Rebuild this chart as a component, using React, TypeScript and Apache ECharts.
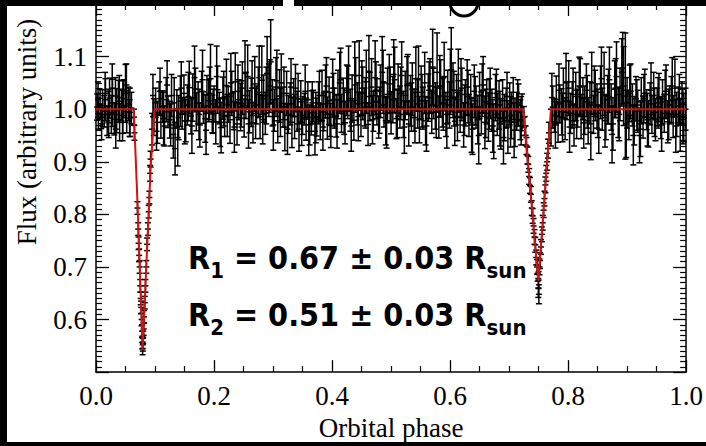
import React, { useEffect, useRef } from "react";
import * as echarts from "echarts";

// Observations: [orbital phase, flux, 1-sigma error]
const outOfEclipseA: number[][] = [
  [0.002,1.004,0.025],[0.004,0.992,0.030],[0.007,1.010,0.028],[0.009,0.985,0.022],[0.011,1.002,0.035],
  [0.014,0.996,0.030],[0.016,1.018,0.040],[0.019,0.978,0.028],[0.021,1.006,0.032],[0.023,1.021,0.038],
  [0.026,0.990,0.036],[0.028,1.012,0.045],[0.031,0.981,0.030],[0.033,1.025,0.035],[0.035,0.997,0.042],
  [0.038,1.015,0.040],[0.040,0.975,0.035],[0.043,1.008,0.030],[0.045,0.988,0.048],[0.047,1.020,0.036],
  [0.050,1.030,0.055],[0.052,0.995,0.040],[0.055,1.010,0.032],[0.057,0.983,0.035],[0.060,1.002,0.030]
];

const primaryEclipse: number[][] = [
  [0.0643,0.985,0.015],[0.0650,0.955,0.014],[0.0702,0.812,0.012],[0.0716,0.772,0.012],[0.0722,0.745,0.012],
  [0.0731,0.722,0.012],[0.0740,0.700,0.012],[0.0750,0.664,0.012],[0.0758,0.640,0.012],[0.0764,0.623,0.012],
  [0.0772,0.600,0.012],[0.0779,0.578,0.012],[0.0785,0.556,0.012],[0.0790,0.545,0.012],[0.0794,0.552,0.012],
  [0.0800,0.566,0.012],[0.0808,0.582,0.012],[0.0815,0.605,0.012],[0.0826,0.632,0.012],[0.0838,0.664,0.012],
  [0.0852,0.700,0.012],[0.0866,0.743,0.012],[0.0880,0.772,0.012],[0.0893,0.805,0.012],[0.0905,0.832,0.012],
  [0.0917,0.878,0.015],[0.0925,0.905,0.015]
];

const outOfEclipseB: number[][] = [
  [0.095,0.962,0.030],[0.098,0.985,0.035],[0.101,1.012,0.028],[0.104,0.975,0.040],[0.107,1.020,0.032],
  [0.110,0.990,0.045],[0.113,1.005,0.030],[0.116,0.968,0.038],[0.119,1.018,0.042],[0.122,0.995,0.030],
  [0.125,0.980,0.035],[0.128,1.026,0.040],[0.131,0.952,0.045],[0.134,0.925,0.050],[0.137,1.001,0.036],
  [0.140,0.984,0.042],[0.143,1.015,0.048],[0.146,0.992,0.030],[0.149,1.030,0.035],[0.152,0.978,0.040],
  [0.155,1.008,0.038],[0.158,1.041,0.050],[0.161,0.987,0.034],[0.164,1.022,0.045],[0.167,1.060,0.060],
  [0.170,0.995,0.036],[0.173,1.012,0.040],[0.176,0.970,0.042],[0.179,1.034,0.038],[0.182,1.003,0.030],
  [0.185,0.982,0.045],[0.188,1.028,0.036],[0.191,1.016,0.040],[0.194,1.058,0.065],[0.197,0.991,0.036],
  [0.200,1.010,0.034],[0.203,0.976,0.042],[0.206,1.037,0.045],[0.209,1.002,0.030],[0.212,0.965,0.048],
  [0.215,1.021,0.040],[0.218,0.986,0.038],[0.221,1.045,0.050],[0.224,1.009,0.034],[0.227,0.980,0.045],
  [0.230,1.030,0.042],[0.233,0.997,0.036],[0.236,1.052,0.055],[0.239,0.972,0.040],[0.242,1.018,0.038],
  [0.245,1.004,0.045],[0.248,1.040,0.050],[0.251,0.983,0.036],[0.254,1.026,0.044],[0.257,1.062,0.060],
  [0.260,0.995,0.040],[0.263,1.013,0.046],[0.266,0.974,0.038],[0.269,1.048,0.052],[0.272,1.008,0.036],
  [0.275,1.032,0.048],[0.278,0.986,0.042],[0.281,1.055,0.065],[0.284,1.020,0.045],[0.287,0.992,0.040],
  [0.290,1.068,0.070],[0.293,1.036,0.050],[0.296,1.090,0.080],[0.299,1.012,0.044],[0.302,0.998,0.040],
  [0.305,1.042,0.056],[0.308,0.978,0.042],[0.311,1.025,0.050],[0.314,1.050,0.055],[0.317,1.004,0.038],
  [0.320,0.966,0.045],[0.323,1.030,0.042],[0.326,0.990,0.036],[0.329,1.010,0.040],[0.332,0.975,0.048],
  [0.335,1.022,0.036],[0.338,1.040,0.045],[0.341,0.996,0.038],[0.344,0.962,0.042],[0.347,1.014,0.040],
  [0.350,0.988,0.036],[0.353,1.000,0.030],[0.356,0.981,0.040],[0.359,1.018,0.034],[0.362,0.970,0.038],
  [0.365,0.993,0.042],[0.368,1.006,0.030],[0.371,0.958,0.045],[0.374,0.985,0.036],[0.377,1.012,0.040],
  [0.380,0.976,0.034],[0.383,1.026,0.048],[0.386,0.995,0.036],[0.389,1.034,0.050],[0.392,0.983,0.040],
  [0.395,1.016,0.045],[0.398,0.969,0.042],[0.401,1.040,0.055],[0.404,1.002,0.038],[0.407,0.987,0.040],
  [0.410,1.028,0.046],[0.413,1.050,0.058],[0.416,0.992,0.036],[0.419,1.015,0.044],[0.422,0.974,0.040],
  [0.425,1.036,0.048],[0.428,1.058,0.062],[0.431,0.998,0.040],[0.434,1.020,0.045],[0.437,0.979,0.038],
  [0.440,1.046,0.052],[0.443,1.010,0.040],[0.446,1.064,0.066],[0.449,0.990,0.042],[0.452,1.030,0.050],
  [0.455,1.004,0.036],[0.458,1.052,0.060],[0.461,0.971,0.040],[0.464,1.024,0.046],[0.467,1.042,0.054],
  [0.470,0.996,0.038],[0.473,1.060,0.070],[0.476,1.014,0.044],[0.479,0.985,0.040],[0.482,1.034,0.050],
  [0.485,1.070,0.068],[0.488,1.008,0.042],[0.491,0.978,0.046],[0.494,1.028,0.050],[0.497,1.048,0.056],
  [0.500,0.993,0.040],[0.503,1.018,0.044],[0.506,1.056,0.062],[0.509,0.982,0.038],[0.512,1.036,0.050],
  [0.515,1.004,0.040],[0.518,1.064,0.064],[0.521,0.990,0.044],[0.524,1.026,0.046],[0.527,1.045,0.055],
  [0.530,0.972,0.042],[0.533,1.016,0.048],[0.536,1.038,0.050],[0.539,0.998,0.040],[0.542,1.058,0.060],
  [0.545,1.010,0.046],[0.548,0.980,0.044],[0.551,1.032,0.050],[0.554,1.002,0.040],[0.557,1.050,0.058],
  [0.560,0.968,0.048],[0.563,1.022,0.045],[0.566,1.044,0.052],[0.569,0.994,0.040],[0.572,1.030,0.048],
  [0.575,1.006,0.044],[0.578,1.070,0.075],[0.581,0.985,0.040],[0.584,1.040,0.054],[0.587,1.012,0.046],
  [0.590,1.062,0.065],[0.593,0.990,0.042],[0.596,1.024,0.050],[0.599,1.008,0.044],[0.602,1.075,0.080],
  [0.605,1.036,0.052],[0.608,0.977,0.046],[0.611,1.018,0.048],[0.614,1.054,0.060],[0.617,0.996,0.040],
  [0.620,1.028,0.050],[0.623,0.970,0.042],[0.626,1.012,0.044],[0.629,1.042,0.052],[0.632,0.988,0.040],
  [0.635,1.020,0.046],[0.638,0.962,0.048],[0.641,1.034,0.050],[0.644,1.004,0.040],[0.647,0.980,0.046],
  [0.650,1.026,0.044],[0.653,0.993,0.040],[0.656,1.046,0.054],[0.659,0.975,0.050],[0.662,1.014,0.042],
  [0.665,0.985,0.046],[0.668,1.030,0.048],[0.671,0.998,0.040],[0.674,0.958,0.052],[0.677,1.022,0.044],
  [0.680,0.990,0.040],[0.683,1.008,0.046],[0.686,0.972,0.048],[0.689,1.016,0.040],[0.692,0.984,0.044],
  [0.695,1.002,0.038],[0.698,0.966,0.050],[0.701,1.010,0.040],[0.704,0.988,0.044],[0.707,1.020,0.040],
  [0.710,0.975,0.046],[0.713,0.996,0.036],[0.716,1.008,0.040],[0.719,0.980,0.038],[0.722,0.994,0.035]
];

const secondaryEclipse: number[][] = [
  [0.7250,0.985,0.020],[0.7265,0.968,0.018],[0.7280,0.950,0.018],[0.7295,0.930,0.016],[0.7310,0.912,0.016],
  [0.7325,0.895,0.015],[0.7340,0.872,0.015],[0.7355,0.855,0.015],[0.7370,0.838,0.015],[0.7385,0.812,0.014],
  [0.7400,0.797,0.014],[0.7415,0.778,0.014],[0.7430,0.757,0.014],[0.7445,0.742,0.014],[0.7460,0.718,0.014],
  [0.7475,0.700,0.014],[0.7485,0.688,0.015],[0.7495,0.660,0.018],[0.7500,0.675,0.016],[0.7505,0.648,0.018],
  [0.7515,0.700,0.015],[0.7525,0.712,0.015],[0.7540,0.738,0.014],[0.7555,0.762,0.014],[0.7570,0.784,0.014],
  [0.7585,0.808,0.014],[0.7600,0.830,0.014],[0.7615,0.856,0.015],[0.7630,0.878,0.015],[0.7645,0.900,0.016],
  [0.7660,0.925,0.018],[0.7675,0.955,0.020]
];

const outOfEclipseC: number[][] = [
  [0.771,0.965,0.035],[0.774,1.004,0.040],[0.777,0.988,0.032],[0.780,1.018,0.045],[0.783,0.975,0.038],
  [0.786,1.010,0.036],[0.789,0.995,0.044],[0.792,1.030,0.048],[0.795,0.982,0.040],[0.798,1.016,0.036],
  [0.801,1.040,0.052],[0.804,0.992,0.038],[0.807,1.008,0.044],[0.810,0.970,0.040],[0.813,1.024,0.046],
  [0.816,1.002,0.036],[0.819,1.044,0.055],[0.822,0.986,0.042],[0.825,1.020,0.040],[0.828,0.998,0.046],
  [0.831,1.036,0.050],[0.834,0.978,0.044],[0.837,1.012,0.040],[0.840,1.050,0.058],[0.843,0.990,0.036],
  [0.846,1.026,0.048],[0.849,1.006,0.042],[0.852,0.962,0.046],[0.855,1.032,0.050],[0.858,1.000,0.040],
  [0.861,1.048,0.060],[0.864,0.984,0.042],[0.867,1.018,0.046],[0.870,1.056,0.062],[0.873,1.004,0.044],
  [0.876,0.972,0.050],[0.879,1.038,0.054],[0.882,1.062,0.066],[0.885,0.994,0.048],[0.888,1.028,0.050],
  [0.891,1.070,0.064],[0.894,1.044,0.075],[0.897,1.025,0.120],[0.900,1.012,0.048],[0.903,0.988,0.046],
  [0.906,1.034,0.052],[0.909,1.008,0.040],[0.912,0.978,0.046],[0.915,1.020,0.042],[0.918,0.996,0.040],
  [0.921,0.950,0.052],[0.924,1.016,0.044],[0.927,0.985,0.040],[0.930,1.030,0.046],[0.933,0.999,0.038],
  [0.936,0.972,0.044],[0.939,1.010,0.040],[0.942,0.990,0.036],[0.945,1.026,0.044],[0.948,0.980,0.040],
  [0.951,1.004,0.036],[0.954,1.022,0.046],[0.957,0.984,0.040],[0.960,1.014,0.042],[0.963,0.992,0.036],
  [0.966,1.034,0.050],[0.969,0.976,0.040],[0.972,1.008,0.036],[0.975,1.018,0.044],[0.978,0.986,0.040],
  [0.981,1.040,0.055],[0.984,0.990,0.042],[0.987,1.006,0.036],[0.990,0.970,0.050],[0.993,1.012,0.040],
  [0.996,0.984,0.046],[0.999,1.000,0.040]
];

// Second observing run, out of eclipse: [phase, flux, error]
const secondRunA: number[][] = [
  [0.0035,1.018,0.034],[0.0095,0.972,0.030],[0.0155,1.030,0.040],[0.0215,0.990,0.044],[0.0275,1.040,0.046],
  [0.0335,0.962,0.036],[0.0395,1.022,0.042],[0.0455,1.004,0.050],[0.0515,1.046,0.040],[0.0575,0.994,0.046]
];

const secondRunB: number[][] = [
  [0.0965,1.026,0.040],[0.1025,0.958,0.036],[0.1085,1.034,0.044],[0.1145,0.982,0.050],[0.1205,1.046,0.046],
  [0.1265,0.970,0.040],[0.1325,1.012,0.048],[0.1385,0.946,0.054],[0.1445,1.040,0.050],[0.1505,0.978,0.044],
  [0.1565,1.024,0.046],[0.1625,0.968,0.052],[0.1685,1.038,0.040],[0.1745,0.990,0.048],[0.1805,1.056,0.056],
  [0.1865,0.960,0.046],[0.1925,1.030,0.050],[0.1985,0.996,0.042],[0.2045,1.062,0.058],[0.2105,0.975,0.046],
  [0.2165,1.020,0.052],[0.2225,0.988,0.040],[0.2285,1.050,0.056],[0.2345,0.966,0.048],[0.2405,1.034,0.050],
  [0.2465,1.010,0.044],[0.2525,1.068,0.062],[0.2585,0.972,0.046],[0.2645,1.040,0.052],[0.2705,0.992,0.048],
  [0.2765,1.060,0.060],[0.2825,0.980,0.046],[0.2885,1.026,0.054],[0.2945,1.044,0.050],[0.3005,0.970,0.048],
  [0.3065,1.054,0.058],[0.3125,0.994,0.046],[0.3185,1.030,0.050],[0.3245,0.962,0.048],[0.3305,1.042,0.054],
  [0.3365,0.986,0.042],[0.3425,1.020,0.048],[0.3485,0.975,0.044],[0.3545,1.034,0.050],[0.3605,0.958,0.046],
  [0.3665,1.012,0.040],[0.3725,0.984,0.048],[0.3785,1.026,0.046],[0.3845,0.966,0.044],[0.3905,1.044,0.054],
  [0.3965,0.990,0.042],[0.4025,1.018,0.050],[0.4085,0.972,0.046],[0.4145,1.056,0.060],[0.4205,0.996,0.044],
  [0.4265,1.032,0.050],[0.4325,0.968,0.048],[0.4385,1.064,0.064],[0.4445,0.986,0.046],[0.4505,1.040,0.052],
  [0.4565,1.012,0.048],[0.4625,1.072,0.068],[0.4685,0.980,0.046],[0.4745,1.036,0.054],[0.4805,0.998,0.044],
  [0.4865,1.052,0.060],[0.4925,0.974,0.048],[0.4985,1.028,0.052],[0.5045,1.066,0.066],[0.5105,0.992,0.046],
  [0.5165,1.030,0.050],[0.5225,0.966,0.050],[0.5285,1.048,0.056],[0.5345,1.004,0.046],[0.5405,0.984,0.048],
  [0.5465,1.058,0.062],[0.5525,1.016,0.050],[0.5585,0.978,0.046],[0.5645,1.036,0.054],[0.5705,1.080,0.072],
  [0.5765,0.994,0.048],[0.5825,1.044,0.058],[0.5885,1.010,0.050],[0.5945,0.972,0.046],[0.6005,1.052,0.062],
  [0.6065,1.020,0.052],[0.6125,0.986,0.046],[0.6185,1.040,0.056],[0.6245,0.998,0.048],[0.6305,1.024,0.050],
  [0.6365,0.970,0.052],[0.6425,1.016,0.046],[0.6485,0.950,0.054],[0.6545,1.036,0.050],[0.6605,0.992,0.046],
  [0.6665,1.010,0.048],[0.6725,0.968,0.050],[0.6785,1.030,0.046],[0.6845,0.982,0.052],[0.6905,0.946,0.050],
  [0.6965,1.024,0.046],[0.7025,0.976,0.048],[0.7085,0.960,0.052],[0.7145,1.012,0.044],[0.7205,0.978,0.046]
];

const secondRunC: number[][] = [
  [0.7725,1.022,0.046],[0.7785,0.970,0.044],[0.7845,1.036,0.050],[0.7905,0.984,0.046],[0.7965,1.050,0.056],
  [0.8025,0.966,0.048],[0.8085,1.028,0.050],[0.8145,0.990,0.046],[0.8205,1.042,0.054],[0.8265,0.974,0.048],
  [0.8325,1.014,0.050],[0.8385,0.956,0.052],[0.8445,1.034,0.048],[0.8505,0.992,0.046],[0.8565,1.058,0.060],
  [0.8625,0.978,0.050],[0.8685,1.024,0.052],[0.8745,0.952,0.054],[0.8805,1.040,0.056],[0.8865,0.990,0.050],
  [0.8925,1.078,0.068],[0.8985,0.972,0.064],[0.9045,1.030,0.054],[0.9105,0.950,0.056],[0.9165,1.008,0.048],
  [0.9225,0.962,0.052],[0.9285,1.020,0.046],[0.9345,0.980,0.050],[0.9405,1.036,0.052],[0.9465,0.994,0.046],
  [0.9525,1.012,0.048],[0.9585,0.970,0.050],[0.9645,1.028,0.046],[0.9705,0.990,0.048],[0.9765,1.044,0.054],
  [0.9825,0.968,0.050],[0.9885,1.020,0.046],[0.9945,0.986,0.052]
];

// Best-fit eclipse model (red curve)
const modelPhase = [0, 0.0639, 0.0706, 0.079, 0.0924, 0.0992, 0.724, 0.7496, 0.766, 0.771, 1.0];
const modelFlux = [1.0, 1.0, 0.814, 0.542, 0.884, 1.0, 1.0, 0.674, 0.923, 1.0, 1.0];

const xTicks = [0, 0.2, 0.4, 0.6, 0.8, 1.0];
const yLabelled = [0.6, 0.7, 0.8, 0.9, 1.0, 1.1];

const observations = [
  ...outOfEclipseA, ...primaryEclipse, ...outOfEclipseB, ...secondaryEclipse, ...outOfEclipseC,
  ...secondRunA, ...secondRunB, ...secondRunC
];

const SERIF = "'Liberation Serif', 'Times New Roman', serif";
const SANS = "'DejaVu Sans Condensed', 'DejaVu Sans', Verdana, sans-serif";

export default function App() {
  const ref = useRef<HTMLDivElement>(null);
  useEffect(() => {
    if (!ref.current) return;
    const chart = echarts.init(ref.current, null, { renderer: "svg" });
    const tickFont = { fontFamily: SERIF, fontSize: 27, color: "#000" };
    const xCommon = {
      type: "value" as const,
      min: xTicks[0],
      max: xTicks[xTicks.length - 1],
      interval: 0.2,
      axisLine: { show: true, onZero: false, lineStyle: { color: "#000", width: 1.5 } },
      axisTick: { show: true, inside: true, length: 12, lineStyle: { color: "#000", width: 1.3 } },
      minorTick: { show: true, splitNumber: 4, length: 6, lineStyle: { color: "#000", width: 1.2 } },
      splitLine: { show: false },
      minorSplitLine: { show: false },
    };
    const yCommon = {
      type: "value" as const,
      min: 0.5,
      max: 1.2,
      interval: 0.1,
      axisLine: { show: true, onZero: false, lineStyle: { color: "#000", width: 1.5 } },
      axisTick: { show: true, inside: true, length: 13, lineStyle: { color: "#000", width: 1.3 } },
      minorTick: { show: true, splitNumber: 10, length: 6, lineStyle: { color: "#000", width: 1.2 } },
      splitLine: { show: false },
      minorSplitLine: { show: false },
    };
    const rich = {
      a: { fontFamily: SANS, fontWeight: "bold", fontSize: 32, color: "#000", verticalAlign: "bottom", padding: [0, 0, 7, 0] },
      s: { fontFamily: SANS, fontWeight: "bold", fontSize: 22, color: "#000", verticalAlign: "bottom" },
    };
    chart.setOption({
      animation: false,
      backgroundColor: "#fff",
      grid: { left: 96, right: 15, top: 4, bottom: 66, containLabel: false },
      xAxis: [
        {
          ...xCommon,
          position: "bottom",
          name: "Orbital phase",
          nameLocation: "middle",
          nameGap: 34,
          nameTextStyle: { fontFamily: SERIF, fontSize: 27, color: "#000" },
          axisLabel: {
            show: true,
            margin: 10,
            ...tickFont,
            formatter: (v: number) => (xTicks.some((t) => Math.abs(t - v) < 1e-6) ? v.toFixed(1) : ""),
          },
        },
        { ...xCommon, position: "top", axisLabel: { show: false } },
      ],
      yAxis: [
        {
          ...yCommon,
          position: "left",
          axisLabel: {
            show: true,
            margin: 9,
            ...tickFont,
            formatter: (v: number) => (yLabelled.some((t) => Math.abs(t - v) < 1e-6) ? v.toFixed(1) : ""),
          },
        },
        { ...yCommon, position: "right", axisLabel: { show: false } },
      ],
      graphic: [
        {
          type: "text",
          x: 27,
          y: 132,
          rotation: Math.PI / 2,
          style: {
            text: "Flux (arbitrary units)",
            fontFamily: SERIF,
            fontSize: 27,
            fill: "#000",
            align: "center",
            verticalAlign: "middle",
          },
        },
        {
          type: "text",
          x: 188,
          y: 242,
          z: 10,
          style: { text: "{a|R}{s|1}{a| = 0.67 ± 0.03 R}{s|sun}", rich, align: "left", verticalAlign: "top" },
        },
        {
          type: "text",
          x: 188,
          y: 299,
          z: 10,
          style: { text: "{a|R}{s|2}{a| = 0.51 ± 0.03 R}{s|sun}", rich, align: "left", verticalAlign: "top" },
        },
        { type: "rect", z: 100, shape: { x: 0, y: 0, width: 706, height: 6 }, style: { fill: "#000" } },
        { type: "rect", z: 101, shape: { x: 283, y: 0, width: 11, height: 6 }, style: { fill: "#fff" } },
        { type: "arc", z: 101, shape: { cx: 464, cy: 2, r: 14, startAngle: 0, endAngle: Math.PI }, style: { stroke: "#000", lineWidth: 3, fill: null } },
        { type: "rect", z: 100, shape: { x: 0, y: 0, width: 7, height: 446 }, style: { fill: "#000" } },
        { type: "rect", z: 100, shape: { x: 0, y: 442, width: 706, height: 4 }, style: { fill: "#000" } },
      ],
      series: [
        {
          type: "custom",
          name: "Observed",
          xAxisIndex: 0,
          yAxisIndex: 0,
          z: 2,
          data: observations,
          encode: { x: 0, y: 1 },
          renderItem: (_params: any, api: any) => {
            const x = api.value(0);
            const y = api.value(1);
            const e = api.value(2);
            const top = api.coord([x, y + e]);
            const bot = api.coord([x, y - e]);
            const mid = api.coord([x, y]);
            const hw = 3;
            const st = { stroke: "#000", lineWidth: 1.5 };
            return {
              type: "group",
              children: [
                { type: "line", shape: { x1: top[0], y1: top[1], x2: bot[0], y2: bot[1] }, style: st },
                { type: "line", shape: { x1: top[0] - hw, y1: top[1], x2: top[0] + hw, y2: top[1] }, style: st },
                { type: "line", shape: { x1: bot[0] - hw, y1: bot[1], x2: bot[0] + hw, y2: bot[1] }, style: st },
                { type: "line", shape: { x1: mid[0] - hw, y1: mid[1], x2: mid[0] + hw, y2: mid[1] }, style: st },
              ],
            };
          },
        },
        {
          type: "line",
          name: "Model",
          z: 5,
          data: modelPhase.map((p, i) => [p, modelFlux[i]]),
          showSymbol: false,
          symbol: "none",
          lineStyle: { color: "#d41010", width: 2 },
        },
      ],
    });
    return () => chart.dispose();
  }, []);
  return <div ref={ref} style={{ position: "absolute", left: 0, top: 0, width: 706, height: 446 }} />;
}
